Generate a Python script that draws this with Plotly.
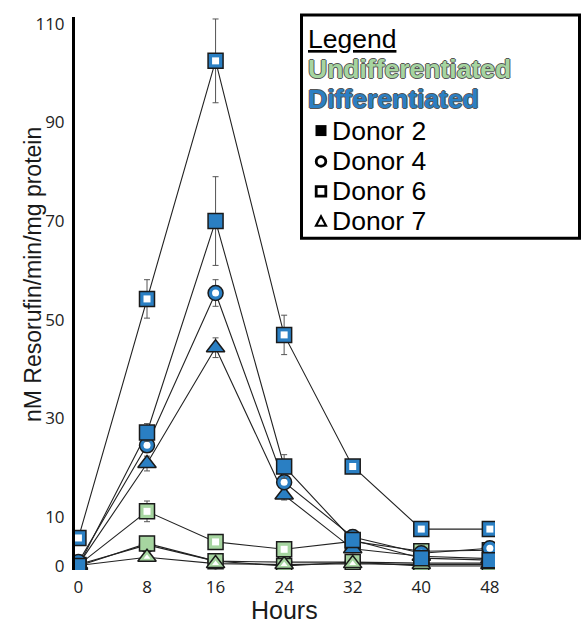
import plotly.graph_objects as go

hours = [0, 8, 16, 24, 32, 40, 48]

# Differentiated (blue)
diff_d2 = [0.0, 27.1, 70.0, 20.2, 5.3, 1.6, 1.2]
diff_d2_err = [0.3, 1.8, 9.0, 2.4, 1.0, 0.5, 0.5]
diff_d4 = [0.8, 24.5, 55.4, 17.0, 5.9, 2.6, 3.6]
diff_d4_err = [0.3, 1.2, 2.7, 1.0, 0.8, 0.5, 0.8]
diff_d6 = [5.7, 54.2, 102.5, 46.9, 20.2, 7.5, 7.5]
diff_d6_err = [0.8, 3.9, 8.5, 4.0, 0.8, 0.8, 0.8]
diff_d7 = [0.3, 20.8, 44.3, 14.4, 3.5, 2.0, 1.5]
diff_d7_err = [0.3, 1.5, 2.0, 1.0, 0.8, 0.5, 0.5]

# Undifferentiated (green)
undiff_d2 = [0.0, 4.6, 1.0, 0.0, 0.8, 0.0, 0.0]
undiff_d2_err = [0.2, 0.6, 0.3, 0.3, 0.3, 0.2, 0.2]
undiff_d4 = [0.3, 4.3, 1.0, 0.8, 0.8, 0.6, 0.6]
undiff_d4_err = [0.2, 0.4, 0.3, 0.6, 0.3, 0.2, 0.2]
undiff_d6 = [0.2, 11.1, 4.9, 3.4, 5.0, 3.0, 3.2]
undiff_d6_err = [0.3, 2.1, 0.8, 0.6, 0.6, 0.5, 0.5]
undiff_d7 = [0.1, 1.8, 0.5, 0.3, 0.5, 0.3, 0.3]
undiff_d7_err = [0.2, 0.5, 0.3, 0.6, 0.3, 0.2, 0.2]

y_ticks = [0, 10, 30, 50, 70, 90, 110]

BLUE = "#2a7fc3"
GREEN = "#a6d5a0"
OUT = "#1a1a1a"
ERR = "#555555"

fig = go.Figure()

series = [
    (undiff_d4, undiff_d4_err, GREEN, "circle", True),
    (undiff_d2, undiff_d2_err, GREEN, "square", False),
    (undiff_d7, undiff_d7_err, GREEN, "triangle-up", True),
    (undiff_d6, undiff_d6_err, GREEN, "square", True),
    (diff_d7, diff_d7_err, BLUE, "triangle-up", False),
    (diff_d4, diff_d4_err, BLUE, "circle", True),
    (diff_d2, diff_d2_err, BLUE, "square", False),
    (diff_d6, diff_d6_err, BLUE, "square", True),
]

# connecting lines first
for vals, err, col, sym, hollow in series:
    fig.add_trace(go.Scatter(x=hours, y=vals, mode="lines",
                             line=dict(color="#222222", width=1.1),
                             showlegend=False, hoverinfo="skip"))

# markers with error bars
for vals, err, col, sym, hollow in series:
    size = 15 if sym != "triangle-up" else 16
    fig.add_trace(go.Scatter(
        x=hours, y=vals, mode="markers",
        marker=dict(symbol=sym, size=size, color=col,
                    line=dict(color=OUT, width=1.5)),
        error_y=dict(type="data", array=err, visible=True,
                     color=ERR, thickness=1, width=3),
        showlegend=False, hoverinfo="skip"))
    if hollow:
        isize = 7 if sym != "triangle-up" else 6
        fig.add_trace(go.Scatter(
            x=hours, y=vals, mode="markers",
            marker=dict(symbol=sym, size=isize, color="white",
                        line=dict(width=0)),
            showlegend=False, hoverinfo="skip"))

W, H = 582, 623
L, R, T, B = 75, 495, 15, 570   # plot area in pixels
def px(xp):
    return (xp - L) / (R - L)
def py(yp):
    return (B - yp) / (B - T)

shapes = []
annotations = []

# legend box
shapes.append(dict(type="rect", xref="paper", yref="paper",
                   x0=px(301.5), x1=px(579.5), y0=py(13), y1=py(237),
                   line=dict(color="black", width=3), fillcolor="white",
                   layer="above"))

tx = px(306)
FS = 26.5
annotations.append(dict(xref="paper", yref="paper", x=tx, y=py(37),
                        text="<u>Legend</u>", showarrow=False,
                        xanchor="left", yanchor="middle",
                        font=dict(family="Liberation Sans", size=FS, color="black")))
outline = "1px 0 #555, -1px 0 #555, 0 1px #555, 0 -1px #555"
annotations.append(dict(xref="paper", yref="paper", x=tx, y=py(67),
                        text="<b>Undifferentiated</b>", showarrow=False,
                        xanchor="left", yanchor="middle",
                        font=dict(family="Liberation Sans", size=FS, color=GREEN,
                                  shadow=outline)))
annotations.append(dict(xref="paper", yref="paper", x=tx, y=py(97),
                        text="<b>Differentiated</b>", showarrow=False,
                        xanchor="left", yanchor="middle",
                        font=dict(family="Liberation Sans", size=FS, color=BLUE,
                                  shadow=outline)))

donor_labels = ["Donor 2", "Donor 4", "Donor 6", "Donor 7"]
donor_y = [129, 160, 190, 220]
for lab, yy in zip(donor_labels, donor_y):
    annotations.append(dict(xref="paper", yref="paper", x=px(330), y=py(yy),
                            text=lab, showarrow=False,
                            xanchor="left", yanchor="middle",
                            font=dict(family="Liberation Sans", size=FS, color="black")))

cx = 321
# filled square
shapes.append(dict(type="rect", xref="paper", yref="paper",
                   x0=px(cx - 5.5), x1=px(cx + 5.5), y0=py(129 - 5.5), y1=py(129 + 5.5),
                   fillcolor="black", line=dict(width=0), layer="above"))
# ring
shapes.append(dict(type="circle", xref="paper", yref="paper",
                   x0=px(cx - 4.8), x1=px(cx + 4.8), y0=py(160 - 4.8), y1=py(160 + 4.8),
                   fillcolor="white", line=dict(color="black", width=2.8), layer="above"))
# open square
shapes.append(dict(type="rect", xref="paper", yref="paper",
                   x0=px(cx - 4.8), x1=px(cx + 4.8), y0=py(190 - 4.8), y1=py(190 + 4.8),
                   fillcolor="white", line=dict(color="black", width=2.8), layer="above"))
# triangle
tri = "M {x0},{y0} L {x1},{y0} L {xm},{y1} Z".format(
    x0=px(cx - 5), x1=px(cx + 5), xm=px(cx), y0=py(220 + 4.5), y1=py(220 - 5))
shapes.append(dict(type="path", xref="paper", yref="paper", path=tri,
                   fillcolor="white", line=dict(color="black", width=2.2), layer="above"))

# axis titles
annotations.append(dict(xref="paper", yref="paper", x=px(33), y=py(274),
                        text="nM Resorufin/min/mg protein", textangle=-90,
                        showarrow=False, xanchor="center", yanchor="middle",
                        font=dict(family="Liberation Sans", size=23, color="#1a1a1a")))
annotations.append(dict(xref="x", yref="paper", x=24, y=py(610),
                        text="Hours", showarrow=False,
                        xanchor="center", yanchor="middle",
                        font=dict(family="Liberation Sans", size=25, color="#1a1a1a")))

fig.update_layout(
    width=W, height=H,
    margin=dict(l=L, r=W - R, t=T, b=H - B),
    paper_bgcolor="white", plot_bgcolor="white",
    showlegend=False,
    shapes=shapes, annotations=annotations,
    xaxis=dict(range=[-0.4, 48.6], tickvals=hours,
               ticktext=[str(h) for h in hours],
               showgrid=False, zeroline=False, showline=False, ticks="",
               tickfont=dict(family="Open Sans", size=17, color="#222222"),
               ticklabelstandoff=5),
    yaxis=dict(range=[-0.8, 111.4], tickvals=y_ticks,
               ticktext=[str(v) for v in y_ticks],
               showgrid=False, zeroline=False, showline=True,
               linecolor="black", linewidth=3, ticks="",
               tickfont=dict(family="Open Sans", size=17, color="#222222"),
               ticklabelstandoff=4),
)

fig.write_html(
    "out.html",
    config={"displayModeBar": False},
    post_script="document.body.style.margin='0px';document.body.style.overflow='hidden';",
)
